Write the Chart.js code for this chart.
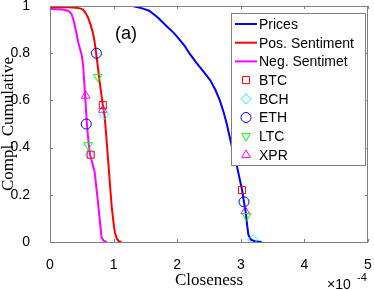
<!DOCTYPE html>
<html>
<head>
<meta charset="utf-8">
<script src="https://cdn.jsdelivr.net/npm/chart.js@4"></script>
<style>
  body { margin: 0; background: #fff; }
  #wrap { width: 374px; height: 290px; }
</style>
</head>
<body>
<div id="wrap"><canvas id="chart" width="374" height="290"></canvas></div>
<script>
// closeness in units of 1e-4
const pricesX = [0, 0.5, 1.0, 1.3, 1.45, 1.56, 1.7, 1.83, 1.95, 2.03, 2.12, 2.19, 2.3, 2.42, 2.52, 2.6, 2.67, 2.73, 2.78, 2.83, 2.88, 2.94, 2.98, 3.02, 3.05, 3.08, 3.10, 3.12, 3.16, 3.22, 3.33];
const pricesY = [1, 1, 1, 1, 0.99, 0.98, 0.95, 0.915, 0.885, 0.86, 0.83, 0.80, 0.76, 0.72, 0.685, 0.645, 0.6, 0.55, 0.5, 0.44, 0.38, 0.32, 0.27, 0.22, 0.17, 0.12, 0.07, 0.03, 0.01, 0.003, 0];

const posX = [0, 0.3, 0.4, 0.47, 0.52, 0.56, 0.6, 0.64, 0.68, 0.70, 0.74, 0.78, 0.82, 0.86, 0.89, 0.93, 0.97, 1.0, 1.02, 1.05, 1.08, 1.12];
const posY = [0.995, 0.995, 0.993, 0.99, 0.985, 0.97, 0.95, 0.92, 0.88, 0.85, 0.77, 0.68, 0.6, 0.53, 0.43, 0.29, 0.15, 0.08, 0.04, 0.015, 0.004, 0];

const negX = [0, 0.2, 0.28, 0.31, 0.34, 0.37, 0.39, 0.42, 0.44, 0.47, 0.5, 0.52, 0.55, 0.58, 0.61, 0.63, 0.67, 0.7, 0.75, 0.78, 0.81, 0.84, 0.89];
const negY = [0.987, 0.985, 0.98, 0.975, 0.965, 0.94, 0.915, 0.88, 0.85, 0.82, 0.79, 0.75, 0.63, 0.5, 0.41, 0.37, 0.33, 0.30, 0.18, 0.1, 0.02, 0.006, 0];

const btcX = [0.83, 0.64, 3.02], btcY = [0.58, 0.37, 0.22];
const bchX = [0.85, 0.63, 3.19], bchY = [0.54, 0.37, 0.01];
const ethX = [0.73, 0.57, 3.05], ethY = [0.80, 0.50, 0.17];
const ltcX = [0.75, 0.60, 3.09], ltcY = [0.70, 0.41, 0.11];
const xprX = [0.56, 0.83, 3.07], xprY = [0.62, 0.56, 0.13];

const xTicks = [0, 1, 2, 3, 4, 5];
const yTicks = [0, 0.2, 0.4, 0.6, 0.8, 1];

const SANS = '"Liberation Sans", Arial, sans-serif';
const SERIF = '"Liberation Serif", "Times New Roman", serif';
const AXIS = '#808080';

const pts = (xs, ys) => xs.map((x, i) => ({ x: x, y: ys[i] }));

function lineSet(label, xs, ys, color) {
    return {
        label: label, data: pts(xs, ys), showLine: true,
        borderColor: color, borderWidth: 2, pointRadius: 0,
        tension: 0, order: 1
    };
}

function markerSet(label, xs, ys, color, style, rot) {
    return {
        label: label, data: pts(xs, ys), showLine: false,
        borderColor: color, backgroundColor: 'transparent', borderWidth: 1,
        pointStyle: style, pointRotation: rot || 0, pointRadius: 5, order: 0
    };
}

// box + inward ticks, like matlab axes
const boxPlugin = {
    id: 'box',
    afterDatasetsDraw(chart) {
        const { ctx, chartArea: a, scales } = chart;
        ctx.save();
        ctx.strokeStyle = AXIS;
        ctx.lineWidth = 1;
        ctx.strokeRect(a.left + 0.5, a.top + 0.5, a.right - a.left - 1, a.bottom - a.top);
        ctx.beginPath();
        xTicks.forEach(v => {
            const px = Math.round(scales.x.getPixelForValue(v)) + 0.5;
            ctx.moveTo(px, a.bottom); ctx.lineTo(px, a.bottom - 3);
            ctx.moveTo(px, a.top); ctx.lineTo(px, a.top + 3);
        });
        yTicks.forEach(v => {
            const py = Math.round(scales.y.getPixelForValue(v)) + 0.5;
            ctx.moveTo(a.left, py); ctx.lineTo(a.left + 3, py);
            ctx.moveTo(a.right, py); ctx.lineTo(a.right - 3, py);
        });
        ctx.stroke();
        ctx.restore();
    }
};

const textPlugin = {
    id: 'texts',
    afterDraw(chart) {
        const { ctx } = chart;
        ctx.save();
        ctx.fillStyle = '#000';
        ctx.font = '18px ' + SANS;
        ctx.textAlign = 'center';
        ctx.textBaseline = 'middle';
        ctx.fillText('(a)', 126, 34);

        ctx.textAlign = 'left';
        ctx.textBaseline = 'alphabetic';
        ctx.font = '14px ' + SANS;
        ctx.fillText('\u00d710', 327, 289);
        ctx.font = '11px ' + SANS;
        ctx.fillText('-4', 357, 281);

        // legend
        const lx = 231, ly = 13, lw = 134, lh = 152;
        ctx.fillStyle = '#fff';
        ctx.fillRect(lx, ly, lw, lh);
        ctx.strokeStyle = AXIS;
        ctx.strokeRect(lx + 0.5, ly + 0.5, lw, lh);
        ctx.font = '14px ' + SANS;
        ctx.textBaseline = 'middle';
        chart.data.datasets.forEach((ds, i) => {
            const y = 24 + i * 18.7;
            ctx.strokeStyle = ds.borderColor;
            if (ds.showLine) {
                ctx.lineWidth = 2;
                ctx.beginPath();
                ctx.moveTo(235, y); ctx.lineTo(257, y);
                ctx.stroke();
            } else {
                ctx.fillStyle = 'transparent';
                ctx.lineWidth = 1;
                Chart.helpers.drawPoint(ctx, {
                    pointStyle: ds.pointStyle, rotation: ds.pointRotation,
                    radius: 5, borderWidth: 1
                }, 246, y);
            }
            ctx.fillStyle = '#000';
            ctx.fillText(ds.label, 259, y + 1);
        });
        ctx.restore();
    }
};

new Chart(document.getElementById('chart'), {
    type: 'scatter',
    data: {
        datasets: [
            lineSet('Prices', pricesX, pricesY, '#0000ff'),
            lineSet('Pos. Sentiment', posX, posY, '#ff0000'),
            lineSet('Neg. Sentimet', negX, negY, '#ff00ff'),
            markerSet('BTC', btcX, btcY, '#ff0000', 'rect'),
            markerSet('BCH', bchX, bchY, '#00ffff', 'rectRot'),
            markerSet('ETH', ethX, ethY, '#0000ff', 'circle'),
            markerSet('LTC', ltcX, ltcY, '#00ff00', 'triangle', 180),
            markerSet('XPR', xprX, xprY, '#ff00ff', 'triangle')
        ]
    },
    options: {
        responsive: false,
        animation: false,
        layout: { padding: { top: 6, right: 2, left: 0, bottom: 0 } },
        plugins: { legend: { display: false }, tooltip: { enabled: false } },
        scales: {
            x: {
                type: 'linear', min: 0, max: 5,
                afterBuildTicks: s => { s.ticks = xTicks.map(v => ({ value: v })); },
                afterFit: s => { s.height = 48; s.paddingLeft = 0; s.paddingRight = 0; },
                grid: { display: false }, border: { display: false },
                ticks: { color: '#000', padding: 8, font: { family: SANS, size: 14, lineHeight: 1 }, callback: v => String(v) },
                title: { display: true, text: 'Closeness', color: '#000', padding: { top: 0, bottom: 0 }, font: { family: SERIF, size: 17, lineHeight: 1.1 } }
            },
            y: {
                type: 'linear', min: 0, max: 1,
                afterBuildTicks: s => { s.ticks = yTicks.map(v => ({ value: v })); },
                afterFit: s => { s.width = 50; s.paddingTop = 0; s.paddingBottom = 0; },
                grid: { display: false }, border: { display: false },
                ticks: { color: '#000', padding: 12, font: { family: SANS, size: 14, lineHeight: 1 }, callback: v => String(v) },
                title: { display: true, text: 'Compl. Cumulative', color: '#000', padding: { top: 0, bottom: 0 }, font: { family: SERIF, size: 17, lineHeight: 1 } }
            }
        }
    },
    plugins: [boxPlugin, textPlugin]
});
</script>
</body>
</html>
